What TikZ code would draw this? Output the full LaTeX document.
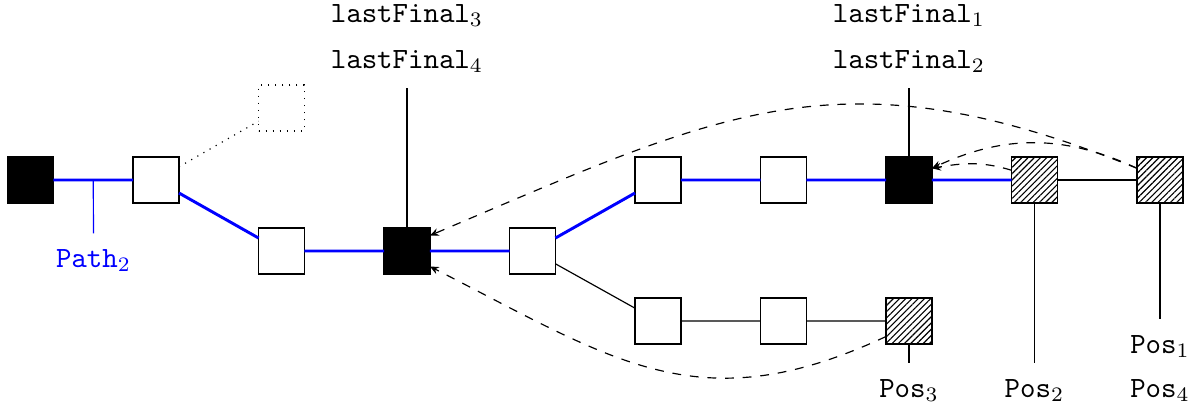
\documentclass[tikz,border=0pt]{standalone}
\usetikzlibrary{arrows.meta,patterns.meta,calc}
\begin{document}
\begin{tikzpicture}[x=0.34pt,y=0.34pt,
  box/.style={draw,line width=0.4pt,minimum size=15.6pt,inner sep=0pt,outer sep=0pt,fill=white},
  blk/.style={box,fill=black},
  hatch/.style={box,pattern={Lines[angle=45,distance=1.5pt,line width=0.4pt]}},
  ghost/.style={box,dotted,fill=none},
  lbl/.style={inner sep=3.33pt,outer sep=2pt,anchor=base},
  pathline/.style={blue,line width=1pt},
  plain/.style={line width=0.4pt},
  back/.style={dashed,line width=0.4pt,-{Stealth[length=3pt,width=2.6pt]}}]
\useasboundingbox (0,0) rectangle (1202,412);
% boxes
\node[blk]   (n1)  at (30.5,232) {};
\node[box]   (n2)  at (156,232) {};
\node[ghost] (dn)  at (281.5,304) {};
\node[box]   (n3)  at (281.5,161) {};
\node[blk]   (n4)  at (407,161) {};
\node[box]   (n5)  at (532.5,161) {};
\node[box]   (n6)  at (658,232) {};
\node[box]   (n7)  at (783.5,232) {};
\node[blk]   (n8)  at (909,232) {};
\node[hatch] (n9)  at (1034.5,232) {};
\node[hatch] (n10) at (1160,232) {};
\node[box]   (n11) at (658,91) {};
\node[box]   (n12) at (783.5,91) {};
\node[hatch] (n13) at (909,91) {};
% labels
\node[lbl] (lf3) at (407,390) {$\mathtt{lastFinal}_3$};
\node[lbl] (lf4) at (407,344) {$\mathtt{lastFinal}_4$};
\node[lbl] (lf1) at (909,390) {$\mathtt{lastFinal}_1$};
\node[lbl] (lf2) at (909,344) {$\mathtt{lastFinal}_2$};
\node[lbl] (pos3) at (909,15) {$\mathtt{Pos}_3$};
\node[lbl] (pos2) at (1034.5,15) {$\mathtt{Pos}_2$};
\node[lbl] (pos4) at (1160,15) {$\mathtt{Pos}_4$};
\node[lbl] (pos1) at (1160,59) {$\mathtt{Pos}_1$};
\node[lbl,text=blue] (path) at (93.5,145) {$\mathtt{Path}_2$};
% blue path
\coordinate (p2) at ($(n1)!0.5!(n2)$);
\draw[pathline] (n1) -- (n2) -- (n3) -- (n4) -- (n5) -- (n6) -- (n7) -- (n8) -- (n9);
\draw[blue,line width=0.4pt] (p2) -- (path.north);
% plain connectors
\draw[plain] (n9) -- (n10);
\draw[plain] (n5) -- (n11) -- (n12) -- (n13);
\draw[plain,dotted] (n2) -- (dn);
\draw[plain] (n4.north) -- (lf4.south);
\draw[plain] (n8.north) -- (lf2.south);
\draw[plain] (n13.south) -- (pos3.north);
\draw[plain] (n9.south) -- (pos2.north);
\draw[plain] (n10.south) -- (pos1.north);
% dashed back arrows
\draw[back] (n13.214) to[out=205,in=-27,looseness=1.15] (n4.-34);
\draw[back] (n10.153) to[out=158,in=23,looseness=1.15] (n4.34);
\draw[back] (n10.153) to[out=155,in=25] (n8.27);
\draw[back] (n9.157) to[out=163,in=10] (n8.27);
\end{tikzpicture}
\end{document}
